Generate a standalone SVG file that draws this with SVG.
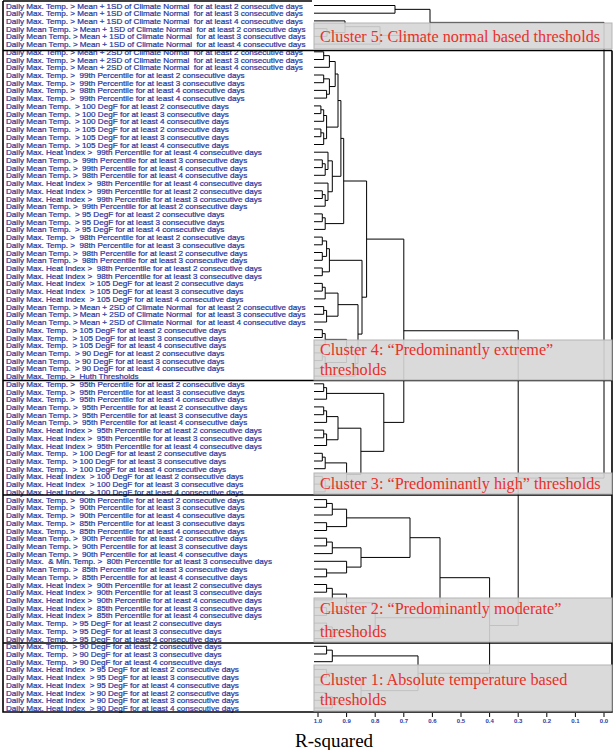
<svg xmlns="http://www.w3.org/2000/svg" width="614" height="750" viewBox="0 0 614 750">
<style>
.lb{font-family:"Liberation Sans",Arial,sans-serif;font-size:8.1px;fill:#28359a;stroke:#28359a;stroke-width:0.22;white-space:pre}
.ax{font-family:"Liberation Sans",Arial,sans-serif;font-size:6px;font-weight:bold;fill:#2e3a9e;text-anchor:middle}
.frame{stroke:#000;stroke-width:1.6;fill:none}
.den{stroke:#000;stroke-width:1;fill:none}
.cbox{fill:#d6d6d6;fill-opacity:0.9;stroke:#b4b4b4;stroke-width:1}
.ct{font-family:"Liberation Serif","Times New Roman",serif;font-size:16.2px;fill:#e8302a}
</style>
<rect width="614" height="750" fill="#fff"/>
<g id="labels">
<text class="lb" x="6" y="8.5">Daily Max. Temp. &gt; Mean + 1SD of Climate Normal  for at least 2 consecutive days</text>
<text class="lb" x="6" y="16.2">Daily Max. Temp. &gt; Mean + 1SD of Climate Normal  for at least 3 consecutive days</text>
<text class="lb" x="6" y="23.9">Daily Max. Temp. &gt; Mean + 1SD of Climate Normal  for at least 4 consecutive days</text>
<text class="lb" x="6" y="31.7">Daily Mean Temp. &gt; Mean + 1SD of Climate Normal  for at least 2 consecutive days</text>
<text class="lb" x="6" y="39.4">Daily Mean Temp. &gt; Mean + 1SD of Climate Normal  for at least 3 consecutive days</text>
<text class="lb" x="6" y="47.1">Daily Mean Temp. &gt; Mean + 1SD of Climate Normal  for at least 4 consecutive days</text>
<text class="lb" x="6" y="54.8">Daily Max. Temp. &gt; Mean + 2SD of Climate Normal  for at least 2 consecutive days</text>
<text class="lb" x="6" y="62.5">Daily Max. Temp. &gt; Mean + 2SD of Climate Normal  for at least 3 consecutive days</text>
<text class="lb" x="6" y="70.3">Daily Max. Temp. &gt; Mean + 2SD of Climate Normal  for at least 4 consecutive days</text>
<text class="lb" x="6" y="78.0">Daily Max. Temp. &gt;  99th Percentile for at least 2 consecutive days</text>
<text class="lb" x="6" y="85.7">Daily Max. Temp. &gt;  99th Percentile for at least 3 consecutive days</text>
<text class="lb" x="6" y="93.4">Daily Max. Temp. &gt;  98th Percentile for at least 4 consecutive days</text>
<text class="lb" x="6" y="101.1">Daily Max. Temp. &gt;  99th Percentile for at least 4 consecutive days</text>
<text class="lb" x="6" y="108.9">Daily Mean Temp.  &gt; 100 DegF for at least 2 consecutive days</text>
<text class="lb" x="6" y="116.6">Daily Mean Temp.  &gt; 100 DegF for at least 3 consecutive days</text>
<text class="lb" x="6" y="124.3">Daily Mean Temp.  &gt; 100 DegF for at least 4 consecutive days</text>
<text class="lb" x="6" y="132.0">Daily Mean Temp.  &gt; 105 DegF for at least 2 consecutive days</text>
<text class="lb" x="6" y="139.7">Daily Mean Temp.  &gt; 105 DegF for at least 3 consecutive days</text>
<text class="lb" x="6" y="147.5">Daily Mean Temp.  &gt; 105 DegF for at least 4 consecutive days</text>
<text class="lb" x="6" y="155.2">Daily Max. Heat Index &gt;  99th Percentile for at least 4 consecutive days</text>
<text class="lb" x="6" y="162.9">Daily Mean Temp. &gt;  99th Percentile for at least 3 consecutive days</text>
<text class="lb" x="6" y="170.6">Daily Mean Temp. &gt;  99th Percentile for at least 4 consecutive days</text>
<text class="lb" x="6" y="178.3">Daily Mean Temp. &gt;  98th Percentile for at least 4 consecutive days</text>
<text class="lb" x="6" y="186.1">Daily Max. Heat Index &gt;  98th Percentile for at least 4 consecutive days</text>
<text class="lb" x="6" y="193.8">Daily Max. Heat Index &gt;  99th Percentile for at least 2 consecutive days</text>
<text class="lb" x="6" y="201.5">Daily Max. Heat Index &gt;  99th Percentile for at least 3 consecutive days</text>
<text class="lb" x="6" y="209.2">Daily Mean Temp. &gt;  99th Percentile for at least 2 consecutive days</text>
<text class="lb" x="6" y="216.9">Daily Mean Temp.  &gt; 95 DegF for at least 2 consecutive days</text>
<text class="lb" x="6" y="224.7">Daily Mean Temp.  &gt; 95 DegF for at least 3 consecutive days</text>
<text class="lb" x="6" y="232.4">Daily Mean Temp.  &gt; 95 DegF for at least 4 consecutive days</text>
<text class="lb" x="6" y="240.1">Daily Max. Temp. &gt;  98th Percentile for at least 2 consecutive days</text>
<text class="lb" x="6" y="247.8">Daily Max. Temp. &gt;  98th Percentile for at least 3 consecutive days</text>
<text class="lb" x="6" y="255.5">Daily Mean Temp. &gt;  98th Percentile for at least 2 consecutive days</text>
<text class="lb" x="6" y="263.3">Daily Mean Temp. &gt;  98th Percentile for at least 3 consecutive days</text>
<text class="lb" x="6" y="271.0">Daily Max. Heat Index &gt;  98th Percentile for at least 2 consecutive days</text>
<text class="lb" x="6" y="278.7">Daily Max. Heat Index &gt;  98th Percentile for at least 3 consecutive days</text>
<text class="lb" x="6" y="286.4">Daily Max. Heat Index  &gt; 105 DegF for at least 2 consecutive days</text>
<text class="lb" x="6" y="294.1">Daily Max. Heat Index  &gt; 105 DegF for at least 3 consecutive days</text>
<text class="lb" x="6" y="301.9">Daily Max. Heat Index  &gt; 105 DegF for at least 4 consecutive days</text>
<text class="lb" x="6" y="309.6">Daily Mean Temp. &gt; Mean + 2SD of Climate Normal  for at least 2 consecutive days</text>
<text class="lb" x="6" y="317.3">Daily Mean Temp. &gt; Mean + 2SD of Climate Normal  for at least 3 consecutive days</text>
<text class="lb" x="6" y="325.0">Daily Mean Temp. &gt; Mean + 2SD of Climate Normal  for at least 4 consecutive days</text>
<text class="lb" x="6" y="332.7">Daily Max. Temp.  &gt; 105 DegF for at least 2 consecutive days</text>
<text class="lb" x="6" y="340.5">Daily Max. Temp.  &gt; 105 DegF for at least 3 consecutive days</text>
<text class="lb" x="6" y="348.2">Daily Max. Temp.  &gt; 105 DegF for at least 4 consecutive days</text>
<text class="lb" x="6" y="355.9">Daily Mean Temp.  &gt; 90 DegF for at least 2 consecutive days</text>
<text class="lb" x="6" y="363.6">Daily Mean Temp.  &gt; 90 DegF for at least 3 consecutive days</text>
<text class="lb" x="6" y="371.3">Daily Mean Temp.  &gt; 90 DegF for at least 4 consecutive days</text>
<text class="lb" x="6" y="379.1">Daily Max. Temp. &gt;  Huth Thresholds</text>
<text class="lb" x="6" y="386.8">Daily Max. Temp. &gt;  95th Percentile for at least 2 consecutive days</text>
<text class="lb" x="6" y="394.5">Daily Max. Temp. &gt;  95th Percentile for at least 3 consecutive days</text>
<text class="lb" x="6" y="402.2">Daily Max. Temp. &gt;  95th Percentile for at least 4 consecutive days</text>
<text class="lb" x="6" y="409.9">Daily Mean Temp. &gt;  95th Percentile for at least 2 consecutive days</text>
<text class="lb" x="6" y="417.7">Daily Mean Temp. &gt;  95th Percentile for at least 3 consecutive days</text>
<text class="lb" x="6" y="425.4">Daily Mean Temp. &gt;  95th Percentile for at least 4 consecutive days</text>
<text class="lb" x="6" y="433.1">Daily Max. Heat Index &gt;  95th Percentile for at least 2 consecutive days</text>
<text class="lb" x="6" y="440.8">Daily Max. Heat Index &gt;  95th Percentile for at least 3 consecutive days</text>
<text class="lb" x="6" y="448.5">Daily Max. Heat Index &gt;  95th Percentile for at least 4 consecutive days</text>
<text class="lb" x="6" y="456.3">Daily Max. Temp.  &gt; 100 DegF for at least 2 consecutive days</text>
<text class="lb" x="6" y="464.0">Daily Max. Temp.  &gt; 100 DegF for at least 3 consecutive days</text>
<text class="lb" x="6" y="471.7">Daily Max. Temp.  &gt; 100 DegF for at least 4 consecutive days</text>
<text class="lb" x="6" y="479.4">Daily Max. Heat Index  &gt; 100 DegF for at least 2 consecutive days</text>
<text class="lb" x="6" y="487.1">Daily Max. Heat Index  &gt; 100 DegF for at least 3 consecutive days</text>
<text class="lb" x="6" y="494.9">Daily Max. Heat Index  &gt; 100 DegF for at least 4 consecutive days</text>
<text class="lb" x="6" y="502.6">Daily Max. Temp. &gt;  90th Percentile for at least 2 consecutive days</text>
<text class="lb" x="6" y="510.3">Daily Max. Temp. &gt;  90th Percentile for at least 3 consecutive days</text>
<text class="lb" x="6" y="518.0">Daily Max. Temp. &gt;  90th Percentile for at least 4 consecutive days</text>
<text class="lb" x="6" y="525.7">Daily Max. Temp. &gt;  85th Percentile for at least 3 consecutive days</text>
<text class="lb" x="6" y="533.5">Daily Max. Temp. &gt;  85th Percentile for at least 4 consecutive days</text>
<text class="lb" x="6" y="541.2">Daily Mean Temp. &gt;  90th Percentile for at least 2 consecutive days</text>
<text class="lb" x="6" y="548.9">Daily Mean Temp. &gt;  90th Percentile for at least 3 consecutive days</text>
<text class="lb" x="6" y="556.6">Daily Mean Temp. &gt;  90th Percentile for at least 4 consecutive days</text>
<text class="lb" x="6" y="564.3">Daily Max.  &amp; Min. Temp. &gt;  80th Percentile for at least 3 consecutive days</text>
<text class="lb" x="6" y="572.1">Daily Mean Temp. &gt;  85th Percentile for at least 3 consecutive days</text>
<text class="lb" x="6" y="579.8">Daily Mean Temp. &gt;  85th Percentile for at least 4 consecutive days</text>
<text class="lb" x="6" y="587.5">Daily Max. Heat Index &gt;  90th Percentile for at least 2 consecutive days</text>
<text class="lb" x="6" y="595.2">Daily Max. Heat Index &gt;  90th Percentile for at least 3 consecutive days</text>
<text class="lb" x="6" y="602.9">Daily Max. Heat Index &gt;  90th Percentile for at least 4 consecutive days</text>
<text class="lb" x="6" y="610.7">Daily Max. Heat Index &gt;  85th Percentile for at least 3 consecutive days</text>
<text class="lb" x="6" y="618.4">Daily Max. Heat Index &gt;  85th Percentile for at least 4 consecutive days</text>
<text class="lb" x="6" y="626.1">Daily Max. Temp.  &gt; 95 DegF for at least 2 consecutive days</text>
<text class="lb" x="6" y="633.8">Daily Max. Temp.  &gt; 95 DegF for at least 3 consecutive days</text>
<text class="lb" x="6" y="641.5">Daily Max. Temp.  &gt; 95 DegF for at least 4 consecutive days</text>
<text class="lb" x="6" y="649.3">Daily Max. Temp.  &gt; 90 DegF for at least 2 consecutive days</text>
<text class="lb" x="6" y="657.0">Daily Max. Temp.  &gt; 90 DegF for at least 3 consecutive days</text>
<text class="lb" x="6" y="664.7">Daily Max. Temp.  &gt; 90 DegF for at least 4 consecutive days</text>
<text class="lb" x="6" y="672.4">Daily Max. Heat Index  &gt; 95 DegF for at least 2 consecutive days</text>
<text class="lb" x="6" y="680.1">Daily Max. Heat Index  &gt; 95 DegF for at least 3 consecutive days</text>
<text class="lb" x="6" y="687.9">Daily Max. Heat Index  &gt; 95 DegF for at least 4 consecutive days</text>
<text class="lb" x="6" y="695.6">Daily Max. Heat Index  &gt; 90 DegF for at least 2 consecutive days</text>
<text class="lb" x="6" y="703.3">Daily Max. Heat Index  &gt; 90 DegF for at least 3 consecutive days</text>
<text class="lb" x="6" y="711.0">Daily Max. Heat Index  &gt; 90 DegF for at least 4 consecutive days</text>
</g>
<g id="frame">
<path class="frame" d="M3,1 H312 M3,1 V712 H612 V50.5 M3,50.5 H612 M3,380.5 H612 M3,495 H612 M3,643 H612"/>
</g>
<g id="connectors">
<path class="den" d="
M314,5.5H395 M314,13.2H395 M395,5.5V13.2 M395,9.35H430
M314,28.7H327 M314,36.4H327 M327,28.7V36.4 M314,20.9H345 M327,32.55H345 M345,20.9V32.55
M345,26.7H380 M314,44.1H380 M380,26.7V44.1 M380,35.4H430 M430,9.35V35.4 M430,22.4H604
M314,51.8H323.7 M314,59.5H323.7 M323.7,51.8V59.5 M323.7,55.65H329.4 M314,67.3H329.4 M329.4,55.65V67.3
M314,75H323.7 M314,82.7H323.7 M323.7,75V82.7 M314,90.4H326.6 M314,98.1H326.6 M326.6,90.4V98.1
M323.7,78.85H329.4 M326.6,94.25H329.4 M329.4,78.85V94.25
M329.4,61.5H335.2 M329.4,86.55H335.2 M335.2,61.5V86.55
M314,105.9H320.9 M314,113.6H320.9 M320.9,105.9V113.6 M320.9,109.75H323.7 M314,121.3H323.7 M323.7,109.75V121.3
M314,129H320.9 M314,136.7H320.9 M320.9,129V136.7 M320.9,132.85H323.7 M314,144.5H323.7 M323.7,132.85V144.5
M323.7,115.5H326.6 M323.7,138.7H326.6 M326.6,115.5V138.7
M335.2,74H338 M326.6,127.1H338 M338,74V127.1
M314,159.9H322.3 M314,167.6H322.3 M322.3,159.9V167.6 M322.3,163.75H325.2 M314,175.3H325.2 M325.2,163.75V175.3
M314,152.2H328 M325.2,169.5H328 M328,152.2V169.5
M314,190.8H322.3 M314,198.5H322.3 M322.3,190.8V198.5 M322.3,194.65H325.2 M314,206.2H325.2 M325.2,194.65V206.2
M314,183.1H328 M325.2,200.4H328 M328,183.1V200.4
M328,160.85H332.3 M328,191.75H332.3 M332.3,160.85V191.75
M338,100.55H340.9 M332.3,176.3H340.9 M340.9,100.55V176.3
M314,213.9H322.3 M314,221.7H322.3 M322.3,213.9V221.7 M322.3,217.8H325.2 M314,229.4H325.2 M325.2,217.8V229.4
M340.9,138.4H343.7 M325.2,223.6H343.7 M343.7,138.4V223.6
M314,237.1H322.3 M314,244.8H322.3 M322.3,237.1V244.8 M314,252.5H322.3 M314,260.3H322.3 M322.3,252.5V260.3
M322.3,240.95H326.6 M322.3,256.4H326.6 M326.6,240.95V256.4
M314,268H322.3 M314,275.7H322.3 M322.3,268V275.7 M326.6,248.7H329.4 M322.3,271.85H329.4 M329.4,248.7V271.85
M314,283.4H322.3 M314,291.1H322.3 M322.3,283.4V291.1 M322.3,287.25H325.2 M314,298.9H325.2 M325.2,287.25V298.9
M314,306.6H323.7 M314,314.3H323.7 M323.7,306.6V314.3 M323.7,310.45H326.6 M314,322H326.6 M326.6,310.45V322
M325.2,293.1H338 M326.6,316.2H338 M338,293.1V316.2
M314,329.7H322.3 M314,337.5H322.3 M322.3,329.7V337.5 M322.3,333.6H325.2 M314,345.2H325.2 M325.2,333.6V345.2
M314,352.9H322.3 M314,360.6H322.3 M322.3,352.9V360.6 M322.3,356.75H325.2 M314,368.3H325.2 M325.2,356.75V368.3
M325.2,339.4H346.6 M325.2,362.5H346.6 M346.6,339.4V362.5
M346.6,350.95H355.2 M314,376.1H355.2 M355.2,350.95V376.1
M338,304.65H358 M355.2,363.5H358 M358,304.65V363.5
M329.4,260.3H362 M358,334.1H362 M362,260.3V334.1
M343.7,181H366.6 M362,297.2H366.6 M366.6,181V297.2
M314,383.8H323.7 M314,391.5H323.7 M323.7,383.8V391.5 M323.7,387.65H326.6 M314,399.2H326.6 M326.6,387.65V399.2
M314,406.9H323.7 M314,414.7H323.7 M323.7,406.9V414.7 M323.7,410.8H326.6 M314,422.4H326.6 M326.6,410.8V422.4
M314,430.1H323.7 M314,437.8H323.7 M323.7,430.1V437.8 M323.7,433.95H326.6 M314,445.5H326.6 M326.6,433.95V445.5
M326.6,416.6H338 M326.6,439.75H338 M338,416.6V439.75
M314,453.3H322.3 M314,461H322.3 M322.3,453.3V461 M322.3,457.15H325.2 M314,468.7H325.2 M325.2,457.15V468.7
M314,476.4H322.3 M314,484.1H322.3 M322.3,476.4V484.1 M322.3,480.25H325.2 M314,491.9H325.2 M325.2,480.25V491.9
M325.2,462.9H346.6 M325.2,486.1H346.6 M346.6,462.9V486.1
M338,428.2H360.9 M346.6,474.5H360.9 M360.9,428.2V474.5
M326.6,393.4H383.8 M360.9,451.35H383.8 M383.8,393.4V451.35
M366.6,239.1H403.8 M383.8,422.4H403.8 M403.8,239.1V422.4 M403.8,330.75H518.2
M314,499.6H326.6 M314,507.3H326.6 M326.6,499.6V507.3 M326.6,503.45H332.3 M314,515H332.3 M332.3,503.45V515
M314,522.7H326.6 M314,530.5H326.6 M326.6,522.7V530.5
M332.3,509.2H346.6 M326.6,526.6H346.6 M346.6,509.2V526.6
M314,538.2H326.6 M314,545.9H326.6 M326.6,538.2V545.9 M326.6,542.05H332.3 M314,553.6H332.3 M332.3,542.05V553.6
M314,569.1H326.6 M314,576.8H326.6 M326.6,569.1V576.8 M314,561.3H346.6 M326.6,572.95H346.6 M346.6,561.3V572.95
M332.3,547.8H361 M346.6,567.1H361 M361,547.8V567.1
M346.6,517.9H410 M361,557.45H410 M410,517.9V557.45
M314,584.5H326.6 M314,592.2H326.6 M326.6,584.5V592.2 M326.6,588.35H332.3 M314,599.9H332.3 M332.3,588.35V599.9
M314,607.7H326.6 M314,615.4H326.6 M326.6,607.7V615.4
M332.3,594.1H346.6 M326.6,611.55H346.6 M346.6,594.1V611.55
M314,623.1H326.6 M314,630.8H326.6 M326.6,623.1V630.8 M326.6,626.95H332.3 M314,638.5H332.3 M332.3,626.95V638.5
M346.6,602.8H375.2 M332.3,632.7H375.2 M375.2,602.8V632.7
M410,537.7H440 M375.2,617.75H440 M440,537.7V617.75
M314,646.3H326.6 M314,654H326.6 M326.6,646.3V654 M326.6,650.15H332.3 M314,661.7H332.3 M332.3,650.15V661.7
M314,669.4H326.6 M314,677.1H326.6 M326.6,669.4V677.1 M326.6,673.25H332.3 M314,684.9H332.3 M332.3,673.25V684.9
M314,692.6H326.6 M314,700.3H326.6 M326.6,692.6V700.3 M326.6,696.45H332.3 M314,708H332.3 M332.3,696.45V708
M332.3,679.1H361 M332.3,702.2H361 M361,679.1V702.2
M332.3,655.9H418 M361,690.65H418 M418,655.9V690.65
M440,577.7H489.6 M418,673.3H489.6 M489.6,577.7V673.3 M489.6,625.5H518.2
M518.2,330.75V625.5 M518.2,478.1H604 M604,22.4V478.1"/>
</g>
<g id="cluster5"><rect class="cbox" x="314" y="23" width="298" height="26"/><text class="ct" x="320" y="42">Cluster 5: Climate normal based thresholds</text></g>
<g id="cluster4"><rect class="cbox" x="314" y="340" width="298" height="40"/><text class="ct" x="320" y="355">Cluster 4: “Predominantly extreme”</text><text class="ct" x="320" y="375">thresholds</text></g>
<g id="cluster3"><rect class="cbox" x="314" y="473" width="298" height="21"/><text class="ct" x="320" y="489">Cluster 3: “Predominantly high” thresholds</text></g>
<g id="cluster2"><rect class="cbox" x="314" y="598" width="298" height="44"/><text class="ct" x="320" y="614">Cluster 2: “Predominantly moderate”</text><text class="ct" x="320" y="637">thresholds</text></g>
<g id="cluster1"><rect class="cbox" x="314" y="665" width="298" height="46"/><text class="ct" x="320" y="685">Cluster 1: Absolute temperature based</text><text class="ct" x="320" y="705">thresholds</text></g>
<g id="axis">
<path class="den" d="M318,713 V717 M346.6,713 V717 M375.2,713 V717 M403.8,713 V717 M432.4,713 V717 M461,713 V717 M489.6,713 V717 M518.2,713 V717 M546.8,713 V717 M575.4,713 V717 M604,713 V717"/>
<text class="ax" x="318" y="723">1.0</text><text class="ax" x="346.6" y="723">0.9</text><text class="ax" x="375.2" y="723">0.8</text><text class="ax" x="403.8" y="723">0.7</text><text class="ax" x="432.4" y="723">0.6</text><text class="ax" x="461" y="723">0.5</text><text class="ax" x="489.6" y="723">0.4</text><text class="ax" x="518.2" y="723">0.3</text><text class="ax" x="546.8" y="723">0.2</text><text class="ax" x="575.4" y="723">0.1</text><text class="ax" x="604" y="723">0.0</text>
<text x="295" y="747" style="font-family:'Liberation Serif','Times New Roman',serif;font-size:19px;fill:#000">R-squared</text>
</g>
</svg>
